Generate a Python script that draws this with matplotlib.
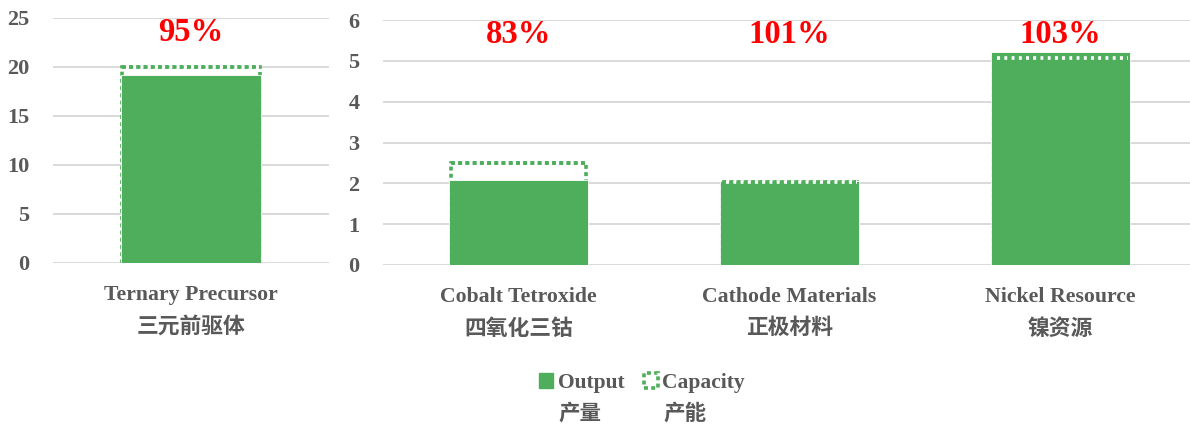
import matplotlib

matplotlib.use("Agg")
import matplotlib.pyplot as plt
from matplotlib.patches import Patch

plt.rcParams["font.family"] = ["Liberation Serif", "Noto Sans CJK SC"]
plt.rcParams["font.weight"] = "bold"

GREEN = "#4EAE5B"
GREY = "#595959"
GRID = "#D9D9D9"

# left panel (scale 0-25)
left_cats = ["Ternary Precursor\n三元前驱体"]
left_output = [19.1]
left_capacity = [20.0]
left_util = ["95%"]

# right panel (scale 0-6)
right_cats = ["Cobalt Tetroxide\n四氧化三钴", "Cathode Materials\n正极材料", "Nickel Resource\n镍资源"]
right_output = [2.08, 2.06, 5.22]
right_capacity = [2.5, 2.04, 5.08]
right_util = ["83%", "101%", "103%"]

legend_en = ["Output", "Capacity"]
legend_zh = ["产量", "产能"]

W = 0.51
DOTS = (0, (1.1, 0.9))
LW = 2.6


def panel(ax, cats, output, capacity, util, ymax, step):
    xs = list(range(len(cats)))
    # capacity outline sits behind the output bar, only its top shows over green
    ax.bar(xs, capacity, width=W * 0.975, fill=False, edgecolor=GREEN, linewidth=LW,
           linestyle=DOTS, zorder=2)
    ax.bar(xs, output, width=W, color=GREEN, edgecolor="white", linewidth=0.6, zorder=3)
    for x, c in zip(xs, capacity):
        ax.plot([x - W * 0.4875, x + W * 0.4875], [c, c], color=GREEN, linewidth=LW,
                linestyle=DOTS, gapcolor="white", zorder=4)
    for x, u in zip(xs, util):
        ax.text(x, 0.94, u, transform=ax.get_xaxis_transform(), ha="center", va="center",
                color="#FF0000", fontsize=23.5, fontweight="bold")
    ax.set_xlim(-0.5, len(cats) - 0.5)
    ax.set_ylim(0, ymax)
    ax.set_yticks(range(0, ymax + 1, step))
    ax.set_xticks(xs)
    ax.set_xticklabels(cats, linespacing=1.75)
    ax.tick_params(length=0, colors=GREY)
    ax.tick_params(axis="x", labelsize=15.7, pad=16)
    ax.tick_params(axis="y", labelsize=16, pad=17)
    ax.grid(axis="y", color=GRID, linewidth=1.4, zorder=0)
    ax.set_axisbelow(True)
    for s in ax.spines.values():
        s.set_visible(False)


fig = plt.figure(figsize=(11.9, 4.26), dpi=100)
ax1 = fig.add_axes([53 / 1190, 1 - 263 / 426, 276 / 1190, 245.5 / 426])
ax2 = fig.add_axes([383 / 1190, 1 - 265 / 426, 813 / 1190, 245 / 426])

panel(ax1, left_cats, left_output, left_capacity, left_util, 25, 5)
panel(ax2, right_cats, right_output, right_capacity, right_util, 6, 1)

handles = [
    Patch(facecolor=GREEN, edgecolor=GREEN),
    Patch(facecolor="none", edgecolor=GREEN, linestyle=DOTS, linewidth=LW),
]
leg = fig.legend(handles, legend_en, loc="center",
                 bbox_to_anchor=(642 / 1190, 1 - 383 / 426), ncol=2, frameon=False,
                 handlelength=0.65, handleheight=0.65, handletextpad=0.2, columnspacing=0.9,
                 prop={"size": 15.5, "weight": "bold"}, labelcolor=GREY)

# chinese second line of each legend entry, left-aligned under the english text
fig.canvas.draw()
for t, zh in zip(leg.get_texts(), legend_zh):
    bb = t.get_window_extent()
    fig.text(bb.x0 / fig.bbox.width + 0.001, 1 - 414 / 426, zh, ha="left", va="center",
             color=GREY, fontsize=15.5, fontweight="bold")

fig.savefig("out.png", dpi=100)
